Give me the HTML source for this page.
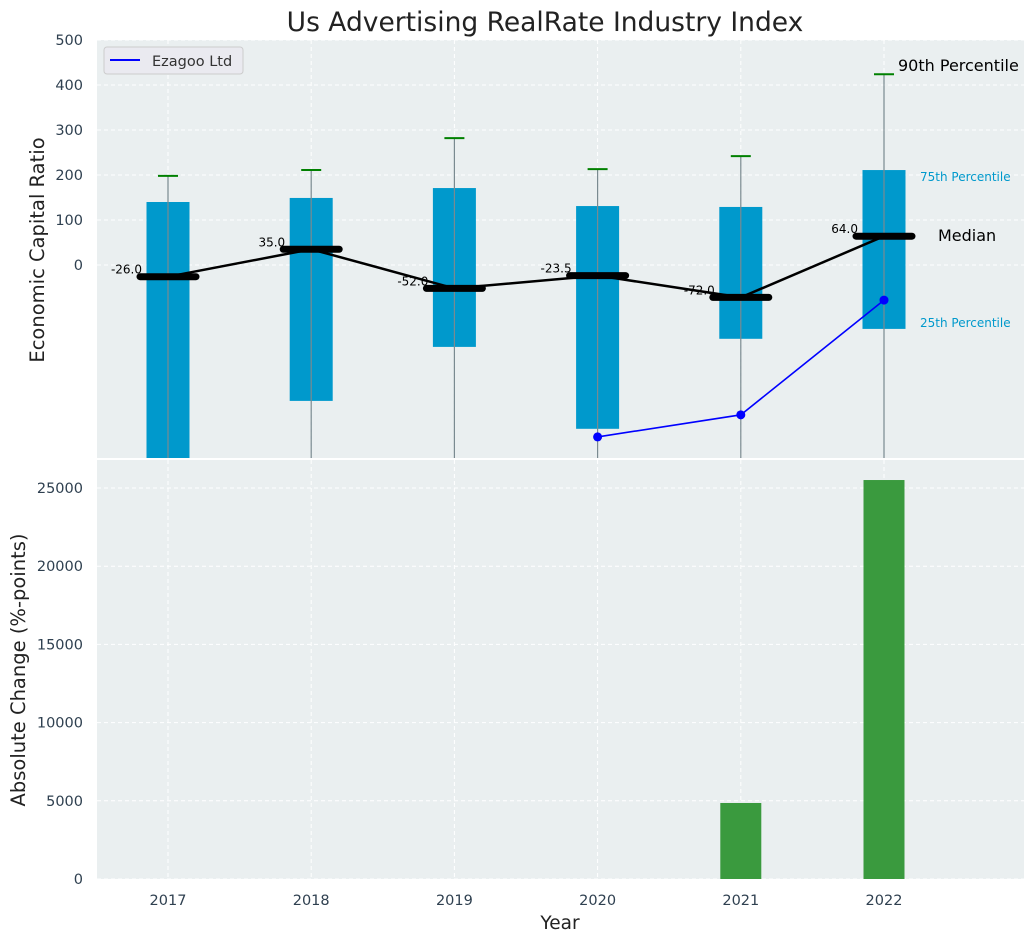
<!DOCTYPE html>
<html><head><meta charset="utf-8"><style>
body{margin:0;background:#fff;font-family:"DejaVu Sans","Liberation Sans",sans-serif;}
svg text{font-family:"DejaVu Sans","Liberation Sans",sans-serif;}
</style></head><body>
<svg id="chart" width="1035" height="942" xmlns="http://www.w3.org/2000/svg"></svg>
<script>
const years=[2017,2018,2019,2020,2021,2022];
const q75=[140,149,171,131,129,211];
const q25=[-500,-302,-182,-364,-164,-142];
const p90=[198,211,282,213,242,424];
const p10=[-600,-600,-600,-600,-600,-600];
const medians=[-26,35,-52,-23.5,-72,64];
const ezYears=[2020,2021,2022];
const ezVals=[-382,-333,-78];
const changeVals=[0,0,0,0,4860,25510];
const topTicks=[0,100,200,300,400,500];
const botTicks=[0,5000,10000,15000,20000,25000];

const NS="http://www.w3.org/2000/svg";
const svg=document.getElementById('chart');
function el(t,a,p){const e=document.createElementNS(NS,t);for(const k in a)e.setAttribute(k,a[k]);(p||svg).appendChild(e);return e;}
const L=97,R=1024,T1=40,B1=458,T2=460,B2=879;
const x=v=>168+(v-2017)*143.2;
const y1=v=>265-v*0.45;
const y2=v=>879-v*0.01564;

let bg=el('rect',{x:L,y:T1,width:R-L,height:B1-T1,fill:'#eaeff0'});

let bg2=el('rect',{x:L,y:T2,width:R-L,height:B2-T2,fill:'#eaeff0'});


const clip=el('clipPath',{id:'c1'});el('rect',{x:L,y:T1,width:R-L,height:B1-T1},clip);
const g1=el('g',{'clip-path':'url(#c1)'});
const clip2=el('clipPath',{id:'c2'});el('rect',{x:L,y:T2,width:R-L,height:B2-T2},clip2);
const g2=el('g',{'clip-path':'url(#c2)'});

topTicks.forEach(t=>{el('line',{x1:L,x2:R,y1:y1(t),y2:y1(t),stroke:'#fff','stroke-dasharray':'4,3','stroke-width':1},g1);
 const tx=el('text',{x:L-14,y:y1(t)+5,'text-anchor':'end','font-size':14.5,fill:'#2f4050'});tx.textContent=t;
 });
botTicks.forEach(t=>{el('line',{x1:L,x2:R,y1:y2(t),y2:y2(t),stroke:'#fff','stroke-dasharray':'4,3','stroke-width':1},g2);
 const tx=el('text',{x:L-14,y:y2(t)+5,'text-anchor':'end','font-size':14.5,fill:'#2f4050'});tx.textContent=t;
 });
years.forEach(yr=>{el('line',{x1:x(yr),x2:x(yr),y1:T1,y2:B1,stroke:'#fff','stroke-dasharray':'4,3'},g1);
 el('line',{x1:x(yr),x2:x(yr),y1:T2,y2:B2,stroke:'#fff','stroke-dasharray':'4,3'},g2);
 const tx=el('text',{x:x(yr),y:905,'text-anchor':'middle','font-size':14.5,fill:'#2f4050'});tx.textContent=yr;
 });

years.forEach((yr,i)=>{
 const b=el('rect',{x:x(yr)-21.5,y:y1(q75[i]),width:43,height:y1(q25[i])-y1(q75[i]),fill:'#0099cc'},g1);
 
 const w=el('line',{x1:x(yr),x2:x(yr),y1:y1(p90[i]),y2:y1(p10[i]),stroke:'#7a8a90','stroke-width':1.2},g1);
 
 const c=el('line',{x1:x(yr)-10,x2:x(yr)+10,y1:y1(p90[i]),y2:y1(p90[i]),stroke:'green','stroke-width':2},g1);
 
});
const ml=el('polyline',{points:years.map((yr,i)=>x(yr)+','+y1(medians[i])).join(' '),fill:'none',stroke:'#000','stroke-width':2.5},g1);

years.forEach((yr,i)=>{
 const m=el('line',{x1:x(yr)-28,x2:x(yr)+28,y1:y1(medians[i]),y2:y1(medians[i]),stroke:'#000','stroke-width':7,'stroke-linecap':'round'},g1);
 
 const t=el('text',{x:x(yr)-26,y:y1(medians[i])-3,'text-anchor':'end','font-size':12,fill:'#000'});t.textContent=medians[i].toFixed(1);
 
});
const ez=el('polyline',{points:ezYears.map((yr,i)=>x(yr)+','+y1(ezVals[i])).join(' '),fill:'none',stroke:'blue','stroke-width':1.6},g1);

ezYears.forEach((yr,i)=>{const p=el('circle',{cx:x(yr),cy:y1(ezVals[i]),r:4.5,fill:'blue'},g1);
 });

years.forEach((yr,i)=>{if(!changeVals[i])return;
 const b=el('rect',{x:x(yr)-20.5,y:y2(changeVals[i]),width:41,height:y2(0)-y2(changeVals[i]),fill:'#3a9a3e'},g2);
 });

el('line',{x1:L,x2:R,y1:459,y2:459,stroke:'#fff','stroke-width':2});

function txt(s,a,name){const t=el('text',a);t.textContent=s;return t;}
txt('Us Advertising RealRate Industry Index',{x:545,y:31,'text-anchor':'middle','font-size':26.5,fill:'#222'},'chart-title');
txt('90th Percentile',{x:898,y:71,'font-size':16,fill:'#000'},'p90-annotation');
txt('75th Percentile',{x:920,y:181,'font-size':12,fill:'#0099cc'},'p75-annotation');
txt('Median',{x:938,y:241,'font-size':16,fill:'#000'},'median-annotation');
txt('25th Percentile',{x:920,y:327,'font-size':12,fill:'#0099cc'},'p25-annotation');
txt('Economic Capital Ratio',{x:44,y:250,'text-anchor':'middle','font-size':19.5,fill:'#222',transform:'rotate(-90 44 250)'},'y-axis-title-top');
txt('Absolute Change (%-points)',{x:25,y:670,'text-anchor':'middle','font-size':19.5,fill:'#222',transform:'rotate(-90 25 670)'},'y-axis-title-bottom');
txt('Year',{x:560,y:929,'text-anchor':'middle','font-size':18.5,fill:'#222'},'x-axis-title');

const lg=el('g',{});
el('rect',{x:104,y:47,width:139,height:27,rx:3,fill:'#eaeaf0',stroke:'#ccc'},lg);
el('line',{x1:110,x2:140,y1:60,y2:60,stroke:'blue','stroke-width':2},lg);
const lt=el('text',{x:152,y:66,'font-size':14.5,fill:'#333'},lg);lt.textContent='Ezagoo Ltd';

</script>
</body></html>
